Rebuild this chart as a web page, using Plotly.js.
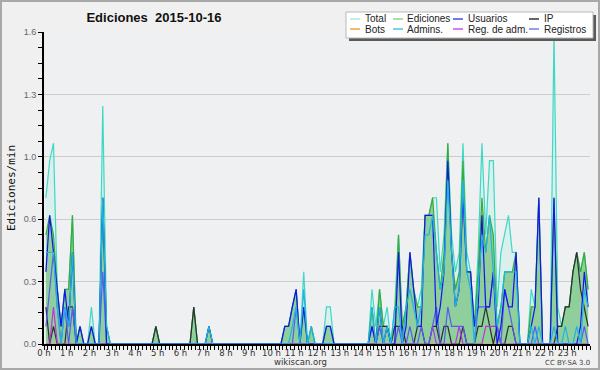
<!DOCTYPE html>
<html>
<head>
<meta charset="utf-8">
<script src="https://cdn.plot.ly/plotly-3.0.1.min.js"></script>
<style>
  html, body { margin: 0; padding: 0; background: #f0f0f0; }
  #chart { width: 600px; height: 370px; }
</style>
</head>
<body>
<div id="chart"></div>
<script>
// 10-minute bins, 144 per day (values in edits per minute)
const total = [
  .75,.94,1.03,.28,.09,.28,.28,.66,0,.09,0,0,
  .19,0,0,1.22,.09,0,0,0,0,0,0,0,
  0,0,0,0,0,.09,0,0,0,0,0,0,
  0,0,0,.19,0,0,0,.09,0,0,0,0,
  0,0,0,0,0,0,0,0,0,0,0,0,
  0,0,0,.09,.09,.19,.28,0,.37,0,.09,0,
  0,0,.19,.19,0,0,0,0,0,0,0,0,
  0,0,.28,.09,.28,.09,.19,0,.19,.56,.09,.19,
  .47,.28,.19,.28,.66,.66,.75,.75,.37,.56,1.03,.56,
  .37,.47,1.03,.47,.37,.09,.47,1.03,.56,.94,.94,.19,
  .47,.56,.66,.47,.47,0,0,0,.28,.19,.75,0,
  0,0,1.6,.19,.09,.19,.19,.37,.47,.37,.47,.28
];
const edits = [
  .56,.66,.56,.28,.09,.28,.28,.66,0,.09,0,0,
  .09,0,0,.75,.09,0,0,0,0,0,0,0,
  0,0,0,0,0,.09,0,0,0,0,0,0,
  0,0,0,.19,0,0,0,.09,0,0,0,0,
  0,0,0,0,0,0,0,0,0,0,0,0,
  0,0,0,.09,.09,.19,.28,0,.19,0,.09,0,
  0,0,.09,.09,0,0,0,0,0,0,0,0,
  0,0,.19,0,.28,.09,.09,0,.09,.56,.09,.19,
  .47,.28,.19,.19,.66,.66,.75,.47,.28,.47,1.03,.47,
  .28,.37,.94,.37,.37,.09,.37,.75,.47,.66,.56,.09,
  .19,.37,.37,.37,.47,0,0,0,.19,.19,.75,0,
  0,0,.75,.09,.09,.19,.19,.37,.47,.37,.47,.28
];
const users = [
  .37,.66,.47,.28,.09,.28,.09,.47,0,.09,0,0,
  .09,0,0,.75,0,0,0,0,0,0,0,0,
  0,0,0,0,0,0,0,0,0,0,0,0,
  0,0,0,0,0,0,0,.09,0,0,0,0,
  0,0,0,0,0,0,0,0,0,0,0,0,
  0,0,0,.09,.09,.19,.28,0,.19,0,0,0,
  0,0,.09,.09,0,0,0,0,0,0,0,0,
  0,0,.09,0,.19,0,.09,0,0,.47,0,.09,
  .47,.28,.09,.09,.66,.66,.66,.09,.19,.37,.94,.47,
  .19,.28,.75,.37,.37,.09,.19,.66,.19,.19,.37,0,
  .09,.28,.19,.19,.47,0,0,0,.09,.19,.75,0,
  0,0,.75,0,0,0,0,0,0,.09,.37,.19
];
const ip = [
  .19,0,.09,0,0,0,.19,.19,0,0,0,0,
  0,0,0,0,0,0,0,0,0,0,0,0,
  0,0,0,0,0,.09,0,0,0,0,0,0,
  0,0,0,.19,0,0,0,0,0,0,0,0,
  0,0,0,0,0,0,0,0,0,0,0,0,
  0,0,0,0,0,0,0,0,0,0,0,0,
  0,0,0,0,0,0,0,0,0,0,0,0,
  0,0,0,0,.09,.09,.09,0,.09,.09,.09,0,
  0,0,.09,.09,0,0,.09,.09,0,.09,.09,0,
  0,0,.09,0,0,0,.09,.09,.19,.09,0,.09,
  0,0,.09,.09,0,0,0,0,0,0,0,0,
  0,0,0,.09,.09,.19,.19,.37,.47,.28,.19,.09
];
const admins = [
  .47,.47,.47,.19,0,.19,.09,.47,0,0,0,0,
  0,0,0,.75,.09,0,0,0,0,0,0,0,
  0,0,0,0,0,0,0,0,0,0,0,0,
  0,0,0,0,0,0,0,.09,0,0,0,0,
  0,0,0,0,0,0,0,0,0,0,0,0,
  0,0,0,0,0,.09,.19,0,.28,0,.09,0,
  0,0,0,0,0,0,0,0,0,0,0,0,
  0,0,.19,0,.19,0,.09,0,.19,.19,0,.19,
  .28,.19,.09,.19,.56,.56,.66,.47,.28,.37,.84,.47,
  .19,.28,.84,.37,.28,0,.28,.56,.47,.66,.37,.09,
  .19,.37,.37,.37,.37,0,0,0,.09,0,.09,0,
  0,0,.09,0,0,.09,0,0,.09,0,.28,.19
];
const registros = [
  .09,.28,.47,.19,0,.19,0,.19,0,0,0,0,
  0,0,0,.37,0,0,0,0,0,0,0,0,
  0,0,0,0,0,0,0,0,0,0,0,0,
  0,0,0,0,0,0,0,0,0,0,0,0,
  0,0,0,0,0,0,0,0,0,0,0,0,
  0,0,0,0,0,0,.19,0,0,0,0,0,
  0,0,0,0,0,0,0,0,0,0,0,0,
  0,0,.09,0,.09,0,0,0,0,.09,0,0,
  .09,0,0,.09,0,0,.09,.19,0,0,.19,.09,
  .09,.09,.09,0,0,0,.19,.19,.19,.19,.37,.09,
  0,.28,.19,.09,0,0,0,0,0,.09,0,0,
  0,0,0,0,0,0,0,0,0,0,.09,0
];
const regAdm = [
  0,0,.19,0,0,0,0,0,0,0,0,0,
  0,0,0,0,0,0,0,0,0,0,0,0,
  0,0,0,0,0,0,0,0,0,0,0,0,
  0,0,0,0,0,0,0,0,0,0,0,0,
  0,0,0,0,0,0,0,0,0,0,0,0,
  0,0,0,0,0,0,0,0,0,0,0,0,
  0,0,0,0,0,0,0,0,0,0,0,0,
  0,0,0,0,0,0,0,0,0,0,0,0,
  0,0,0,0,0,0,.09,0,0,0,0,0,
  0,.09,0,0,0,0,0,0,.09,.09,.09,.09,
  0,0,0,0,0,0,0,0,0,0,0,0,
  0,0,0,0,0,0,0,0,0,0,0,0
];
const bots = [
  0,0,0,0,0,0,0,0,0,0,0,0, 0,0,0,0,0,0,0,0,0,0,0,0,
  0,0,0,0,0,0,0,0,0,0,0,0, 0,0,0,0,0,0,0,0,0,0,0,0,
  0,0,0,0,0,0,0,0,0,0,0,0, 0,0,0,0,0,0,0,0,0,0,0,0,
  0,0,0,0,0,0,0,0,0,0,0,0, 0,0,0,0,0,0,0,0,0,0,0,0,
  0,0,0,0,0,0,0,0,0,0,0,0, 0,0,0,0,0,0,0,0,0,0,0,0,
  0,0,0,0,0,0,0,0,0,0,0,0, 0,0,0,0,0,0,0,0,0,0,0,0
];

const hourTicks = [0,1,2,3,4,5,6,7,8,9,10,11,12,13,14,15,16,17,18,19,20,21,22,23];
const hourLabels = ['0 h','1 h','2 h','3 h','4 h','5 h','6 h','7 h','8 h','9 h','10 h','11 h',
  '12 h','13 h','14 h','15 h','16 h','17 h','18 h','19 h','20 h','21 h','22 h','23 h'];
const yTicks = [0, 0.32, 0.64, 0.96, 1.28, 1.6];
const yLabels = ['0.0','0.3','0.6','1.0','1.3','1.6'];

const legendNames = ['Total','Ediciones','Usuarios','IP','Bots','Admins.','Reg. de adm.','Registros'];
const legendColors = ['#aee8e0','#8ed48e','#4a4ae6','#333333','#f5a040','#48c8e0','#d050e0','#7a7af0'];

// ---- layout geometry (pixels) ----
const W = 600, H = 370, L = 44, R = 10, T = 32, B = 26;
const PW = W - L - R, PH = H - T - B;
const px = v => (v - L) / PW;
const py = v => (H - B - v) / PH;

function line(y, color, extra) {
  return Object.assign({
    type: 'scatter', mode: 'lines', x0: 1/12, dx: 1/6, y: y,
    line: { color: color, width: 1.2 }, showlegend: false, hoverinfo: 'skip'
  }, extra || {});
}

const traces = [
  line(total, '#3ed8c6', { fill: 'tozeroy', fillcolor: 'rgba(190,240,228,0.45)' }),
  line(edits, '#3aab3a', { fill: 'tozeroy', fillcolor: 'rgba(80,180,90,0.55)' }),
  line(bots, '#f5a040'),
  line(ip, '#2e2e2e'),
  line(regAdm, '#c030e0'),
  line(registros, '#5a5af0'),
  line(users, '#1414f0'),
  line(admins, '#20b4e0')
];

// manual legend
const colSample = [350, 393, 453, 529];
const colText = [366, 408, 469, 545];
const rowY = [19, 29];
const shapes = [
  // outer frame
  { type: 'rect', xref: 'paper', yref: 'paper', x0: px(1), x1: px(599), y0: py(369), y1: py(1),
    line: { color: '#a8a8a8', width: 2 }, layer: 'above' },
  // legend shadow
  { type: 'rect', xref: 'paper', yref: 'paper', x0: px(349), x1: px(596), y0: py(41), y1: py(15),
    fillcolor: '#5a5a5a', line: { width: 0 }, layer: 'above' },
  // legend box
  { type: 'rect', xref: 'paper', yref: 'paper', x0: px(346), x1: px(593), y0: py(38), y1: py(12),
    fillcolor: '#ffffff', line: { color: '#b8b8b8', width: 1 }, layer: 'above' }
];
const annotations = [];
legendNames.forEach((name, i) => {
  const c = i % 4, r = Math.floor(i / 4);
  shapes.push({ type: 'line', xref: 'paper', yref: 'paper',
    x0: px(colSample[c]), x1: px(colSample[c] + 10), y0: py(rowY[r]), y1: py(rowY[r]),
    line: { color: legendColors[i], width: 1.5 }, layer: 'above' });
  annotations.push({ xref: 'paper', yref: 'paper', x: px(colText[c] - 2), y: py(rowY[r]),
    xanchor: 'left', yanchor: 'middle', showarrow: false, text: name, borderpad: 0,
    font: { family: 'Liberation Sans, Arial, sans-serif', size: 10, color: '#222' } });
});
annotations.push({ xref: 'paper', yref: 'paper', x: px(300), y: py(362), xanchor: 'center', yanchor: 'middle',
  showarrow: false, borderpad: 0, text: 'wikiscan.org', font: { family: 'DejaVu Sans, sans-serif', size: 8.5, color: '#333' } });
annotations.push({ xref: 'paper', yref: 'paper', x: px(591), y: py(363), xanchor: 'right', yanchor: 'middle',
  showarrow: false, borderpad: 0, text: 'CC BY-SA 3.0', font: { family: 'DejaVu Sans, sans-serif', size: 7, color: '#444' } });

const layout = {
  width: W, height: H,
  margin: { l: L, r: R, t: T, b: B, pad: 0 },
  paper_bgcolor: '#f0f0f0',
  plot_bgcolor: '#eef0f2',
  showlegend: false,
  title: { text: 'Ediciones\u00a0 2015-10-16', x: 154 / W, xanchor: 'center', xref: 'container',
    y: 1 - 17 / H, yanchor: 'middle',
    font: { family: 'Liberation Sans, Arial, sans-serif', size: 13, weight: 'bold', color: '#111' } },
  xaxis: {
    range: [0, 24], tickmode: 'array', tickvals: hourTicks, ticktext: hourLabels,
    ticks: 'outside', ticklen: 4, tickwidth: 1, tickcolor: '#000', ticklabelstandoff: -4,
    showline: true, linecolor: '#000', linewidth: 2, showgrid: false, zeroline: false,
    tickfont: { family: 'DejaVu Sans, sans-serif', size: 8.5, color: '#333' },
    minor: { tickmode: 'linear', tick0: 0, dtick: 1/6, ticks: 'outside', ticklen: 4, tickcolor: '#000', tickwidth: 1, showgrid: false },
    fixedrange: true
  },
  yaxis: {
    range: [0, 1.6], tickmode: 'array', tickvals: yTicks, ticktext: yLabels,
    ticks: 'outside', ticklen: 4, tickwidth: 1, tickcolor: '#000',
    showline: true, linecolor: '#000', linewidth: 2, showgrid: true, gridcolor: '#cccccc', gridwidth: 1,
    zeroline: false,
    tickfont: { family: 'Liberation Sans, Arial, sans-serif', size: 9, color: '#666' },
    minor: { tickmode: 'linear', tick0: 0, dtick: 0.08, ticks: 'outside', ticklen: 4, tickcolor: '#000', tickwidth: 1, showgrid: false },
    title: { text: 'Ediciones/min', standoff: 6,
      font: { family: 'DejaVu Sans Mono, monospace', size: 11, color: '#111' } },
    fixedrange: true
  },
  shapes: shapes,
  annotations: annotations
};

Plotly.newPlot('chart', traces, layout, { displayModeBar: false, staticPlot: true });
</script>
</body>
</html>
